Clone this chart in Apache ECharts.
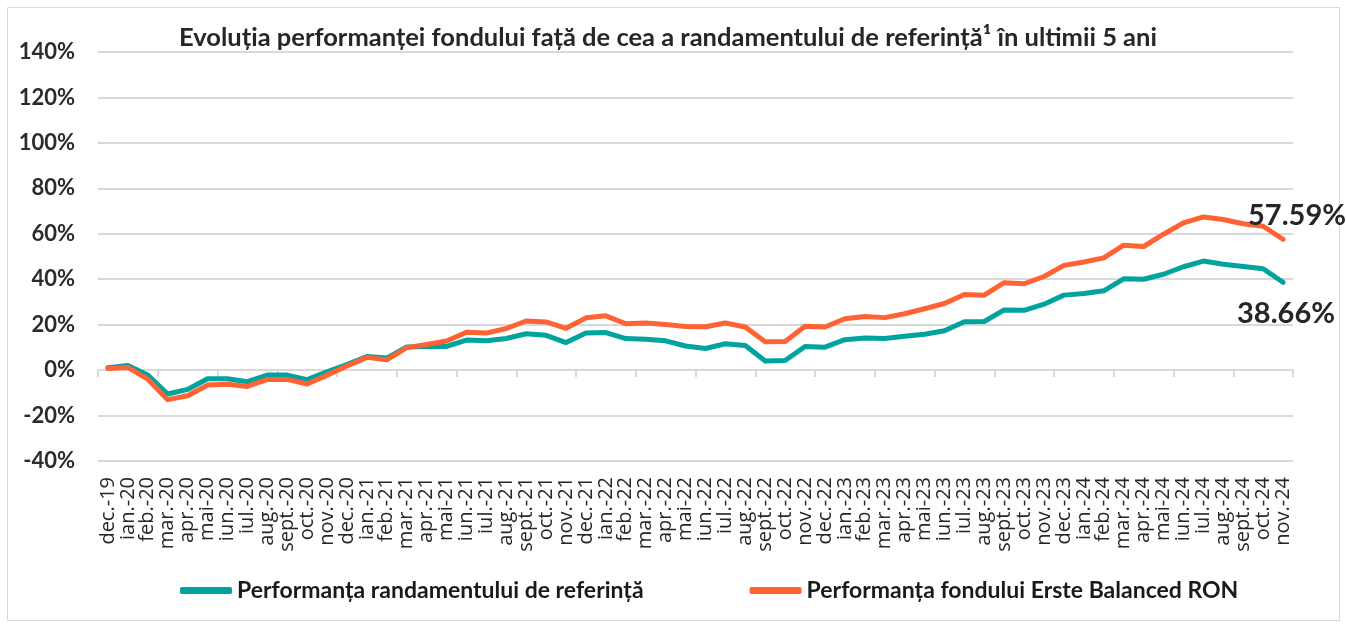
<!DOCTYPE html>
<html>
<head>
<meta charset="utf-8">
<script src="https://cdn.jsdelivr.net/npm/echarts@6/dist/echarts.min.js"></script>
<style>
  html, body { margin: 0; padding: 0; background: #fff; }
</style>
</head>
<body>
<div id="main" style="width: 1347px;height: 628px;"></div>
<script>
// luni (dec.-19 ... nov.-24)
var months = ['dec.-19', 'ian.-20', 'feb.-20', 'mar.-20', 'apr.-20', 'mai-20', 'iun.-20', 'iul.-20', 'aug.-20', 'sept.-20', 'oct.-20', 'nov.-20',
  'dec.-20', 'ian.-21', 'feb.-21', 'mar.-21', 'apr.-21', 'mai-21', 'iun.-21', 'iul.-21', 'aug.-21', 'sept.-21', 'oct.-21', 'nov.-21',
  'dec.-21', 'ian.-22', 'feb.-22', 'mar.-22', 'apr.-22', 'mai-22', 'iun.-22', 'iul.-22', 'aug.-22', 'sept.-22', 'oct.-22', 'nov.-22',
  'dec.-22', 'ian.-23', 'feb.-23', 'mar.-23', 'apr.-23', 'mai-23', 'iun.-23', 'iul.-23', 'aug.-23', 'sept.-23', 'oct.-23', 'nov.-23',
  'dec.-23', 'ian.-24', 'feb.-24', 'mar.-24', 'apr.-24', 'mai-24', 'iun.-24', 'iul.-24', 'aug.-24', 'sept.-24', 'oct.-24', 'nov.-24'];

// randamentul de referinta (%)
var benchmark = [1.0, 2.0, -2.2, -10.5, -8.5, -3.8, -3.8, -5.1, -2.2, -2.2, -4.2, -0.8,
  2.4, 6.0, 5.3, 10.2, 10.4, 10.4, 13.2, 12.9, 13.9, 16.0, 15.3, 12.1,
  16.3, 16.5, 13.9, 13.6, 12.9, 10.6, 9.5, 11.6, 10.8, 4.0, 4.2, 10.4,
  10.1, 13.4, 14.1, 13.9, 14.9, 15.8, 17.3, 21.3, 21.4, 26.5, 26.3, 29.0,
  33.0, 33.7, 34.9, 40.2, 40.0, 42.2, 45.5, 48.0, 46.6, 45.6, 44.6, 38.66];

// fondul Erste Balanced RON (%)
var fund = [0.7, 1.2, -4.0, -13.0, -11.3, -6.6, -6.2, -7.2, -4.1, -4.1, -6.1, -2.2,
  1.8, 5.6, 4.5, 9.9, 11.3, 12.8, 16.7, 16.3, 18.3, 21.6, 21.2, 18.4,
  23.0, 23.9, 20.4, 20.7, 20.1, 19.2, 19.1, 20.7, 19.0, 12.5, 12.6, 19.3,
  19.0, 22.6, 23.6, 23.1, 24.8, 27.0, 29.3, 33.3, 33.0, 38.5, 38.0, 41.2,
  46.1, 47.6, 49.4, 55.0, 54.4, 59.8, 64.8, 67.4, 66.3, 64.4, 63.3, 57.59];

var yTicks = { min: -40, max: 140, step: 20 };

var seriesNames = ['Performanța randamentului de referință', 'Performanța fondului Erste Balanced RON'];

function pct(p) {
  return p.value[1] !== undefined ? p.value[1].toFixed(2) + '%' : p.value.toFixed(2) + '%';
}

var myChart = echarts.init(document.getElementById('main'));

var option = {
  backgroundColor: '#fff',
  animation: false,
  textStyle: { fontFamily: 'Lato' },
  title: {
    text: 'Evoluția performanței fondului față de cea a randamentului de referință¹ în ultimii 5 ani',
    left: 663,
    textAlign: 'center',
    top: 20,
    textStyle: { fontFamily: 'Lato', fontWeight: 'bold', fontSize: 25.5, color: '#262626' }
  },
  graphic: [{
    type: 'rect',
    shape: { x: 7.5, y: 7.5, width: 1332, height: 613 },
    style: { fill: 'none', stroke: '#d9d9d9', lineWidth: 1 },
    silent: true,
    z: -1
  }],
  legend: {
    left: 175,
    top: 574,
    itemWidth: 52,
    itemHeight: 7,
    itemGap: 106,
    icon: 'roundRect',
    textStyle: { fontFamily: 'Lato', fontWeight: 'bold', fontSize: 23, color: '#1a1a1a' },
    data: seriesNames
  },
  grid: { left: 98, right: 54, top: 52, bottom: 167, containLabel: false },
  xAxis: [{
    type: 'category',
    data: months,
    boundaryGap: true,
    position: 'bottom',
    axisLine: { onZero: true, lineStyle: { color: '#d9d9d9', width: 2 } },
    axisTick: { show: true, length: 7, lineStyle: { color: '#d9d9d9', width: 2 } },
    axisLabel: { show: false },
    splitLine: { show: false }
  }, {
    type: 'category',
    data: months,
    boundaryGap: true,
    position: 'bottom',
    axisLine: { show: false, onZero: false },
    axisTick: { show: false },
    axisLabel: {
      rotate: 90,
      interval: 0,
      margin: 16,
      fontFamily: 'Open Sans',
      fontSize: 20,
      color: '#262626'
    }
  }],
  yAxis: {
    type: 'value',
    min: yTicks.min,
    max: yTicks.max,
    interval: yTicks.step,
    axisLine: { show: false },
    axisTick: { show: false },
    axisLabel: {
      formatter: '{value}%',
      margin: 23,
      fontFamily: 'Lato',
      fontWeight: 'bold',
      fontSize: 22,
      color: '#2b2b2b'
    },
    splitLine: { lineStyle: { color: '#d9d9d9', width: 2 } }
  },
  series: [{
    name: seriesNames[0],
    type: 'line',
    xAxisIndex: 0,
    data: benchmark,
    showSymbol: false,
    symbol: 'none',
    lineStyle: { width: 5, color: '#00a39d', cap: 'round', join: 'round' },
    itemStyle: { color: '#00a39d' },
    endLabel: {
      show: true, distance: 0, offset: [-46, 31],
      formatter: pct,
      fontFamily: 'Lato', fontWeight: 'bold', fontSize: 29, color: '#262626'
    },
    z: 2
  }, {
    name: seriesNames[1],
    type: 'line',
    xAxisIndex: 0,
    data: fund,
    showSymbol: false,
    symbol: 'none',
    lineStyle: { width: 5, color: '#ff6333', cap: 'round', join: 'round' },
    itemStyle: { color: '#ff6333' },
    endLabel: {
      show: true, distance: 0, offset: [-35, -24],
      formatter: pct,
      fontFamily: 'Lato', fontWeight: 'bold', fontSize: 29, color: '#262626'
    },
    z: 3
  }]
};

myChart.setOption(option);
</script>
</body>
</html>
